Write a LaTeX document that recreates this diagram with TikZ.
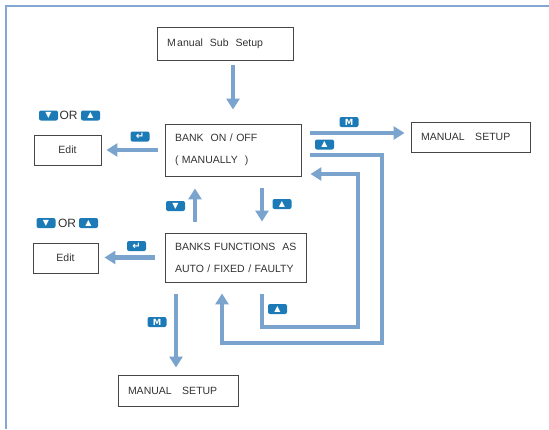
\documentclass[tikz,border=0pt]{standalone}
\usepackage{fontspec}
\setmainfont{Liberation Sans}
\newfontfamily\symfont{DejaVu Sans}
\usetikzlibrary{arrows.meta,calc}
\definecolor{arrowblue}{RGB}{122,164,205}
\definecolor{frameblue}{RGB}{130,168,210}
\definecolor{keyblue}{RGB}{28,122,182}
\definecolor{boxgray}{RGB}{70,70,70}
\definecolor{textgray}{RGB}{50,50,50}
\begin{document}
\begin{tikzpicture}[x=1pt,y=-1pt,
  box/.style={draw=boxgray, line width=0.9pt, inner xsep=10pt, inner ysep=0pt, align=left, text=textgray, font=\fontsize{10.5}{22}\selectfont},
  editbox/.style={draw=boxgray, line width=0.9pt, inner sep=0pt, text=textgray, font=\fontsize{10.5}{12}\selectfont},
  arr/.style={draw=arrowblue, line width=4.5pt, -{Triangle[width=13pt,length=11pt]}},
  key/.style={fill=keyblue, rounded corners=2pt, minimum width=19pt, minimum height=10pt, inner sep=0pt, text=white, font=\symfont\fontsize{8}{8}\selectfont},
  ortext/.style={text=textgray, inner sep=0pt, font=\fontsize{12}{12}\selectfont}
]
\useasboundingbox (0,0) rectangle (549,429);
\draw[frameblue, line width=2pt] (549,6) -- (6,6) -- (6,429);

% boxes
\node[box, text width=116pt, minimum height=33pt] (sub) at (225,43.5) {M\hspace{1.5pt}anual\ \ Sub\ \ Setup};
\node[box, text width=116pt, minimum height=52pt] (bank) at (233,150) {BANK\ \ ON / OFF\\( MANUALLY\ \ )};
\node[box, text width=99pt, minimum height=30pt] (mset1) at (470.5,137) {MANUAL\ \ \ SETUP};
\node[editbox, minimum width=67pt, minimum height=30pt] (edit1) at (67.5,150) {Edit};
\node[box, text width=121pt, minimum height=49pt] (banks) at (235.5,257.5) {\mbox{BANKS FUNCTIONS\ \ AS}\\\mbox{AUTO / FIXED / FAULTY}};
\node[editbox, minimum width=65pt, minimum height=30pt] (edit2) at (65.5,258) {Edit};
\node[box, text width=100pt, minimum height=31pt] (mset2) at (178,390.5) {MANUAL\ \ \ SETUP};

% connectors
\draw[arr, shorten <=5pt, shorten >=14pt] (sub.south -| bank.north) -- (bank.north);
\draw[arr, shorten <=7pt, shorten >=5pt] (bank.west) -- (bank.west -| edit1.east);
\draw[arr, shorten >=6pt] ([xshift=9pt,yshift=17pt]bank.east) -- ([yshift=4pt]mset1.west);
\coordinate (o1) at (382,343);
\draw[arr, shorten >=11pt] ([xshift=9pt,yshift=-5pt]bank.east) -| (o1) -| ([xshift=-13.5pt]banks.south);
\coordinate (i1) at (358,327);
\draw[arr, shorten <=12pt, shorten >=9pt] ([xshift=26.5pt]banks.south) |- (i1) |- ([yshift=-24pt]bank.east);
\draw[arr, shorten <=11pt, shorten >=12pt] ([xshift=-40.5pt]banks.north) -- ([xshift=-38pt]bank.south);
\draw[arr, shorten <=12pt, shorten >=11pt] ([xshift=29pt]bank.south) -- ([xshift=26.5pt]banks.north);
\draw[arr, shorten <=10pt, shorten >=6pt] (banks.west) -- (banks.west -| edit2.east);
\draw[arr, shorten <=12pt, shorten >=7pt] ([xshift=-59.5pt]banks.south) -- ([xshift=-2pt]mset2.north);

% key labels
\node[key] (kM1) at (349,122) {\bfseries\fontsize{8.5}{8.5}\selectfont M};
\node[key] (kU1) at (324.5,144.5) {▲};
\node[key] (kE1) at (140,136.5) {\bfseries\fontsize{10}{10}\selectfont ↵};
\node[key] (kD1) at (48.5,115.5) {▼};
\node[ortext] (or1) at (68.5,115.5) {OR};
\node[key] (kU2) at (90.5,115.5) {▲};
\node[key] (kD2) at (46,223) {▼};
\node[ortext] (or2) at (67,223) {OR};
\node[key] (kU5) at (88.5,223) {▲};
\node[key] (kD3) at (175.5,206) {▼};
\node[key] (kU3) at (282,204) {▲};
\node[key] (kU4) at (277.5,309) {▲};
\node[key] (kM2) at (157,322) {\bfseries\fontsize{8.5}{8.5}\selectfont M};
\node[key] (kE2) at (136.5,246) {\bfseries\fontsize{10}{10}\selectfont ↵};
\end{tikzpicture}
\end{document}
